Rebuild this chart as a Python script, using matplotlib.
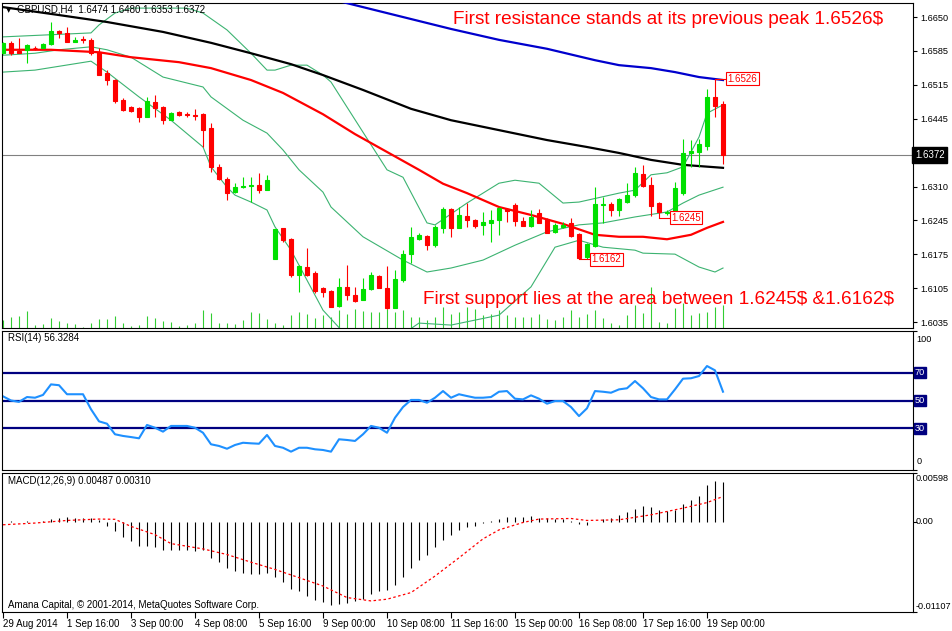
# GBPUSD H4 chart with MAs, Bollinger bands, volumes, RSI and MACD

import matplotlib
matplotlib.use("Agg")
import matplotlib.pyplot as plt
import numpy as np

plt.rcParams['font.family'] = ['Liberation Sans', 'DejaVu Sans']

# candles, one per H4 bar (bar 0 = 29 Aug 2014)
opens = [1.6577, 1.6598, 1.6582, 1.6584, 1.6588, 1.6588, 1.6596, 1.6622, 1.6618, 1.6600,
         1.6606, 1.6604, 1.6579, 1.6537, 1.6523, 1.6483, 1.6469, 1.6467, 1.6448, 1.6479,
         1.6469, 1.6442, 1.6459, 1.6454, 1.6452, 1.6454, 1.6426, 1.6348, 1.6323, 1.6297,
         1.6307, 1.6310, 1.6311, 1.6301, 1.6162, 1.6225, 1.6202, 1.6130, 1.6146, 1.6134,
         1.6104, 1.6098, 1.6067, 1.6106, 1.6090, 1.6080, 1.6102, 1.6128, 1.6104, 1.6063,
         1.6120, 1.6172, 1.6202, 1.6209, 1.6190, 1.6225, 1.6263, 1.6225, 1.6249, 1.6241,
         1.6231, 1.6235, 1.6241, 1.6263, 1.6271, 1.6239, 1.6229, 1.6255, 1.6243, 1.6217,
         1.6227, 1.6235, 1.6213, 1.6166, 1.6188, 1.6271, 1.6273, 1.6261, 1.6277, 1.6291,
         1.6334, 1.6311, 1.6275, 1.6255, 1.6255, 1.6295, 1.6376, 1.6378, 1.6390, 1.6489,
         1.6474]
highs = [1.6600, 1.6602, 1.6608, 1.6596, 1.6592, 1.6598, 1.6640, 1.6624, 1.6630, 1.6610,
         1.6612, 1.6608, 1.6588, 1.6543, 1.6525, 1.6487, 1.6471, 1.6469, 1.6489, 1.6493,
         1.6471, 1.6459, 1.6461, 1.6459, 1.6465, 1.6456, 1.6436, 1.6354, 1.6327, 1.6315,
         1.6327, 1.6327, 1.6336, 1.6332, 1.6223, 1.6225, 1.6205, 1.6150, 1.6184, 1.6138,
         1.6106, 1.6100, 1.6124, 1.6150, 1.6106, 1.6124, 1.6136, 1.6130, 1.6148, 1.6140,
         1.6180, 1.6227, 1.6215, 1.6211, 1.6231, 1.6267, 1.6265, 1.6267, 1.6275, 1.6243,
         1.6257, 1.6261, 1.6267, 1.6265, 1.6275, 1.6247, 1.6261, 1.6263, 1.6245, 1.6235,
         1.6237, 1.6245, 1.6215, 1.6194, 1.6307, 1.6287, 1.6277, 1.6285, 1.6315, 1.6348,
         1.6352, 1.6327, 1.6277, 1.6261, 1.6317, 1.6404, 1.6402, 1.6404, 1.6505, 1.6526,
         1.6480]
lows = [1.6575, 1.6573, 1.6577, 1.6557, 1.6584, 1.6587, 1.6594, 1.6608, 1.6600, 1.6600,
        1.6598, 1.6573, 1.6533, 1.6513, 1.6477, 1.6461, 1.6459, 1.6438, 1.6448, 1.6448,
        1.6434, 1.6442, 1.6450, 1.6448, 1.6442, 1.6388, 1.6338, 1.6321, 1.6281, 1.6295,
        1.6305, 1.6277, 1.6295, 1.6301, 1.6162, 1.6196, 1.6126, 1.6096, 1.6128, 1.6094,
        1.6086, 1.6065, 1.6065, 1.6080, 1.6075, 1.6080, 1.6100, 1.6104, 1.6061, 1.6063,
        1.6116, 1.6154, 1.6200, 1.6180, 1.6186, 1.6215, 1.6207, 1.6225, 1.6227, 1.6225,
        1.6211, 1.6196, 1.6211, 1.6237, 1.6229, 1.6229, 1.6227, 1.6235, 1.6215, 1.6215,
        1.6225, 1.6207, 1.6162, 1.6162, 1.6186, 1.6235, 1.6249, 1.6249, 1.6275, 1.6287,
        1.6307, 1.6249, 1.6245, 1.6251, 1.6253, 1.6291, 1.6348, 1.6348, 1.6382, 1.6448,
        1.6353]
closes = [1.6598, 1.6577, 1.6578, 1.6594, 1.6587, 1.6596, 1.6622, 1.6618, 1.6600, 1.6604,
          1.6604, 1.6577, 1.6533, 1.6523, 1.6481, 1.6463, 1.6461, 1.6448, 1.6481, 1.6467,
          1.6442, 1.6456, 1.6452, 1.6452, 1.6450, 1.6422, 1.6348, 1.6323, 1.6295, 1.6307,
          1.6309, 1.6311, 1.6301, 1.6321, 1.6223, 1.6200, 1.6130, 1.6148, 1.6130, 1.6098,
          1.6096, 1.6065, 1.6106, 1.6090, 1.6078, 1.6102, 1.6130, 1.6104, 1.6063, 1.6122,
          1.6172, 1.6207, 1.6211, 1.6190, 1.6227, 1.6263, 1.6225, 1.6251, 1.6241, 1.6229,
          1.6237, 1.6241, 1.6265, 1.6259, 1.6239, 1.6229, 1.6247, 1.6235, 1.6215, 1.6231,
          1.6231, 1.6209, 1.6164, 1.6192, 1.6273, 1.6273, 1.6261, 1.6283, 1.6291, 1.6336,
          1.6309, 1.6269, 1.6257, 1.6257, 1.6305, 1.6376, 1.6380, 1.6394, 1.6489, 1.6471,
          1.6372]

# tick volumes (height in chart pixels)
volumes = [8, 11, 12, 17, 3, 4, 10, 7, 5, 4, 1, 5, 9, 9, 12, 5, 2, 3, 12, 10,
           7, 6, 2, 3, 5, 18, 15, 5, 5, 4, 8, 16, 15, 9, 5, 3, 13, 16, 14, 10,
           13, 11, 18, 14, 19, 17, 16, 16, 19, 16, 18, 11, 11, 8, 11, 21, 14, 16, 21, 19,
           13, 14, 18, 13, 11, 11, 11, 14, 9, 8, 11, 18, 11, 14, 18, 10, 5, 3, 13, 23,
           15, 41, 6, 5, 20, 25, 13, 15, 16, 21, 23]

# moving averages, sampled at some bars
blue_bars = [41, 44, 50, 56, 62, 68, 74, 77, 81, 84, 87, 90]
blue_vals = [1.6686, 1.6674, 1.6650, 1.6626, 1.6604, 1.6586, 1.6563, 1.6553, 1.6547,
             1.6539, 1.6529, 1.6523]
black_bars = [0, 7, 13, 20, 26, 31, 36, 40, 45, 51, 56, 62, 68, 73, 77, 81, 85, 90]
black_vals = [1.6670, 1.6654, 1.6640, 1.6620, 1.6598, 1.6577, 1.6555, 1.6533, 1.6503,
              1.6465, 1.6442, 1.6422, 1.6402, 1.6388, 1.6376, 1.6362, 1.6352, 1.6346]
red_bars = [0, 6, 12, 16, 22, 26, 31, 35, 40, 44, 48, 52, 55, 58, 62, 66, 70, 74, 77, 80,
            83, 86, 88, 90]
red_vals = [1.6584, 1.6584, 1.6579, 1.6569, 1.6559, 1.6547, 1.6523, 1.6497, 1.6454, 1.6414,
            1.6378, 1.6342, 1.6314, 1.6295, 1.6267, 1.6251, 1.6233, 1.6211, 1.6207, 1.6207,
            1.6202, 1.6211, 1.6225, 1.6237]

# Bollinger bands
bb_up_bars = [0, 11, 12, 14, 16, 23, 25, 28, 31, 33, 34, 36, 38, 40, 41, 48, 50, 53, 54,
              58, 62, 64, 67, 70, 72, 77, 79, 81, 83, 85, 87, 88, 90]
bb_up_vals = [1.6610, 1.6618, 1.6634, 1.6658, 1.6668, 1.6668, 1.6658, 1.6624, 1.6577,
              1.6543, 1.6543, 1.6553, 1.6553, 1.6533, 1.6519, 1.6342, 1.6327, 1.6235,
              1.6231, 1.6275, 1.6315, 1.6321, 1.6315, 1.6275, 1.6277, 1.6295, 1.6301,
              1.6332, 1.6336, 1.6348, 1.6408, 1.6456, 1.6473]
bb_mid_bars = [0, 4, 7, 11, 13, 16, 20, 25, 26, 30, 33, 35, 37, 40, 41, 45, 50, 53, 56,
               60, 64, 68, 72, 75, 79, 83, 85, 87, 90]
bb_mid_vals = [1.6573, 1.6577, 1.6584, 1.6590, 1.6584, 1.6569, 1.6529, 1.6509, 1.6489,
               1.6442, 1.6416, 1.6382, 1.6342, 1.6297, 1.6267, 1.6207, 1.6160, 1.6136,
               1.6144, 1.6160, 1.6190, 1.6217, 1.6231, 1.6235, 1.6247, 1.6257, 1.6275,
               1.6291, 1.6307]
bb_low_bars = [0, 4, 11, 13, 17, 21, 25, 26, 28, 29, 31, 33, 34, 36, 40, 44, 48, 52, 56,
               62, 66, 69, 72, 75, 79, 80, 84, 87, 89, 90]
bb_low_vals = [1.6539, 1.6543, 1.6561, 1.6539, 1.6489, 1.6442, 1.6388, 1.6348, 1.6307,
               1.6291, 1.6277, 1.6261, 1.6227, 1.6180, 1.6059, 1.5989, 1.5989, 1.6033,
               1.6029, 1.6049, 1.6106, 1.6186, 1.6200, 1.6186, 1.6180, 1.6174, 1.6172,
               1.6146, 1.6136, 1.6144]

# marked peak / troughs
mark_bars = [89, 82, 72]
mark_prices = [1.6526, 1.6245, 1.6162]

# RSI(14)
rsi = [53, 50, 49, 52.5, 52, 54, 61.6, 61, 54.5, 54.5,
       54.5, 43.7, 35, 33.3, 25.7, 24.5, 23.7, 22.8, 32.4, 30.4,
       27.6, 31.7, 31.7, 31.7, 30.4, 26.8, 18.5, 17.3, 15.3, 18,
       19.6, 19.2, 18.9, 25.2, 17.3, 16, 13.2, 16, 16, 14.9,
       14.4, 13.2, 22.1, 21.6, 20.9, 25.7, 31.7, 30.4, 26.8, 37.6,
       45.3, 50.4, 50.4, 48.4, 52, 56.8, 52, 54.5, 53.2, 52,
       52, 52.5, 56.3, 56.8, 51.3, 50.8, 53.7, 51.3, 47.7, 49.6,
       49.6, 45.3, 38.8, 44.4, 56.8, 56.3, 55.6, 58, 58.8, 64,
       58.8, 52.5, 50.8, 50.8, 58, 65.7, 66, 67.6, 74.8, 71.7,
       56.33]
rsi_levels = [70, 50, 30]

# MACD(12,26,9) main histogram and signal line
macd_hist = [0.00002, 0.00004, 0.00002, 0.00004, 0.00002, 0.00004, 0.00032, 0.00045,
             0.00053, 0.00041, 0.00041, 0.00041, 0.00024, -0.00057, -0.00118, -0.00191,
             -0.0024, -0.00292, -0.003, -0.00309, -0.00349, -0.00349, -0.00349, -0.00349,
             -0.00353, -0.00341, -0.00443, -0.00495, -0.00572, -0.00605, -0.00633, -0.00646,
             -0.00646, -0.00633, -0.00678, -0.00735, -0.0082, -0.00849, -0.0091, -0.00958,
             -0.00979, -0.01019, -0.01011, -0.00991, -0.0097, -0.00942, -0.00889, -0.00849,
             -0.00836, -0.0078, -0.00678, -0.00572, -0.00471, -0.00402, -0.00313, -0.00219,
             -0.00166, -0.00106, -0.00065, -0.00047, -0.0002, 0.00005, 0.00028, 0.00057,
             0.00057, 0.00057, 0.00065, 0.00049, 0.00049, 0.00037, 0.00037, 0.00008,
             -0.00024, -0.00045, -0.00005, 0.00028, 0.00049, 0.00077, 0.00118, 0.00162,
             0.00191, 0.00179, 0.0015, 0.0013, 0.0015, 0.00223, 0.00272, 0.00321,
             0.00447, 0.00503, 0.00487]
sig_bars = [0, 4, 8, 12, 14, 16, 19, 21, 25, 28, 31, 34, 37, 40, 43, 46, 48, 51, 54, 57,
            60, 62, 65, 67, 71, 73, 77, 81, 85, 88, 90]
sig_vals = [-0.00037, -0.00016, 0.00016, 0.00033, 0.0003, -0.00057, -0.00158, -0.00268,
            -0.00333, -0.00402, -0.00496, -0.00585, -0.00686, -0.00788, -0.0093, -0.00971,
            -0.0095, -0.00869, -0.00666, -0.00442, -0.0021, -0.001, -0.00009, 0.00033,
            0.0004, 0.00016, 0.00024, 0.00085, 0.00167, 0.00235, 0.0031]

date_labels = ["29 Aug 2014", "1 Sep 16:00", "3 Sep 00:00", "4 Sep 08:00", "5 Sep 16:00",
               "9 Sep 00:00", "10 Sep 08:00", "11 Sep 16:00", "15 Sep 00:00",
               "16 Sep 08:00", "17 Sep 16:00", "19 Sep 00:00"]
price_labels = ["1.6035", "1.6105", "1.6175", "1.6245", "1.6310", "1.6380", "1.6445",
                "1.6515", "1.6585", "1.6650"]

W, H = 953, 631
BULL = '#00e000'
BEAR = '#ff0000'
NAVY = '#000080'
SMALL = 7
AXIS = 6.6

fig = plt.figure(figsize=(W / 100, H / 100), dpi=100)


def panel(top, bottom):
    """Axes spanning the chart width between two pixel rows."""
    a = fig.add_axes([2 / W, 1 - bottom / H, 911 / W, (bottom - top) / H])
    a.set_xlim(-0.125, 113.75)
    for s in a.spines.values():
        s.set_linewidth(0.8)
    return a


def px(x, y):
    return x / W, 1 - y / H


ax = panel(3, 328)
ax_rsi = panel(331, 470)
ax_macd = panel(473, 612)

bars = np.arange(len(opens))

# ---- main price panel ----
ax_vol = ax.twinx()
ax_vol.set_ylim(0, 325)
ax_vol.set_yticks([])
for s in ax_vol.spines.values():
    s.set_visible(False)
ax_vol.vlines(bars, 0, volumes, colors='#32cd32', lw=0.8)
ax.set_zorder(ax_vol.get_zorder() + 1)
ax.patch.set_visible(False)

ax.set_ylim(1.60231, 1.66783)
ax.set_xticks([])
ax.yaxis.tick_right()
ax.set_yticks(np.linspace(1.6035, 1.6650, len(price_labels)), price_labels)
ax.tick_params(axis='y', labelsize=AXIS, length=3, width=0.8, pad=2)

for b, v in ((bb_up_bars, bb_up_vals), (bb_mid_bars, bb_mid_vals),
             (bb_low_bars, bb_low_vals)):
    ax.plot(b, v, color='#3cb371', lw=0.8, zorder=2)
ax.plot(blue_bars, blue_vals, color='#0000cd', lw=1.6, zorder=3)
ax.plot(black_bars, black_vals, color='black', lw=1.6, zorder=3)
ax.plot(red_bars, red_vals, color=BEAR, lw=1.6, zorder=3)

o, h, l, c = map(np.array, (opens, highs, lows, closes))
colors = np.where(c >= o, BULL, BEAR)
ax.vlines(bars, l, h, colors=colors, lw=0.8, zorder=4)
ax.bar(bars, np.abs(c - o), bottom=np.minimum(o, c), width=0.5, color=colors,
       edgecolor=colors, lw=0.8, zorder=5)

last = closes[-1]
ax.axhline(last, color='#808080', lw=0.8, zorder=1)
ax.text(1.002, last, f"{last:.4f}", transform=ax.get_yaxis_transform(),
        ha='left', va='center', color='white', fontsize=SMALL, zorder=10,
        clip_on=False, bbox=dict(boxstyle='square,pad=0.3', fc='black', ec='black'))

for b, p in zip(mark_bars, mark_prices):
    ax.plot([b, b + 1.4], [p, p], color=BEAR, lw=0.8, zorder=6)
    ax.text(b + 1.55, p, f"{p:.4f}", color=BEAR, fontsize=SMALL, ha='left',
            va='center', zorder=7,
            bbox=dict(boxstyle='square,pad=0.15', fc='white', ec=BEAR, lw=0.8))

fig.text(*px(9, 10), '\u25bc', fontsize=5, va='center', ha='center',
         family=['DejaVu Sans'])
fig.text(*px(17, 10), f"GBPUSD,H4  {opens[-1]:.4f} {highs[-1]:.4f} "
         f"{lows[-1]:.4f} {closes[-1]:.4f}", fontsize=SMALL, va='center')
fig.text(*px(453, 19), r"First resistance stands at its previous peak 1.6526\$",
         color=BEAR, fontsize=13.7, va='center')
fig.text(*px(423, 300), r"First support lies at the area between 1.6245\$ &1.6162\$",
         color=BEAR, fontsize=13.7, va='center')

# ---- RSI panel ----
ax_rsi.set_ylim(0, 100)
ax_rsi.set_xticks([])
ax_rsi.yaxis.tick_right()
ax_rsi.set_yticks([0, 100], ['', ''])
ax_rsi.tick_params(axis='y', length=3, width=0.8)
for lvl in rsi_levels:
    ax_rsi.axhline(lvl, color=NAVY, lw=1.6)
    ax_rsi.text(1.002, lvl, str(lvl), transform=ax_rsi.get_yaxis_transform(),
                color='white', fontsize=AXIS, ha='left', va='center', clip_on=False,
                bbox=dict(boxstyle='square,pad=0.12', fc=NAVY, ec=NAVY))
ax_rsi.plot(bars, rsi, color='#1e90ff', lw=1.5)
yt = ax_rsi.get_yaxis_transform()
ax_rsi.text(1.004, 97, "100", transform=yt, fontsize=AXIS, ha='left', va='top')
ax_rsi.text(1.004, 3, "0", transform=yt, fontsize=AXIS, ha='left', va='bottom')
fig.text(*px(8, 338), "RSI(14) 56.3284", fontsize=SMALL, va='center')

# ---- MACD panel ----
ax_macd.set_ylim(-0.01107, 0.00598)
ax_macd.vlines(bars, 0, macd_hist, colors='black', lw=0.8)
ax_macd.plot(sig_bars, sig_vals, color=BEAR, lw=0.9, ls=(0, (2, 2)))
ax_macd.yaxis.tick_right()
ax_macd.set_yticks([-0.01107, 0, 0.00598], ['', '', ''])
ax_macd.tick_params(axis='y', length=3, width=0.8)
yt = ax_macd.get_yaxis_transform()
ax_macd.text(1.003, 0.00585, "0.00598", transform=yt, fontsize=AXIS, ha='left', va='top')
ax_macd.text(1.003, 0, "0.00", transform=yt, fontsize=AXIS, ha='left', va='center')
ax_macd.text(1.003, -0.01095, "-0.01107", transform=yt, fontsize=AXIS, ha='left',
             va='bottom')
ax_macd.set_xticks(np.arange(0, 8 * len(date_labels), 8), date_labels)
ax_macd.tick_params(axis='x', labelsize=SMALL, length=4, width=0.8, pad=1)
for lab in ax_macd.get_xticklabels():
    lab.set_ha('left')
fig.text(*px(8, 481), "MACD(12,26,9) 0.00487 0.00310", fontsize=SMALL, va='center')
fig.text(*px(8, 605), "Amana Capital, \u00a9 2001-2014, MetaQuotes Software Corp.",
         fontsize=SMALL, va='center')

fig.savefig("out.png", dpi=100)
